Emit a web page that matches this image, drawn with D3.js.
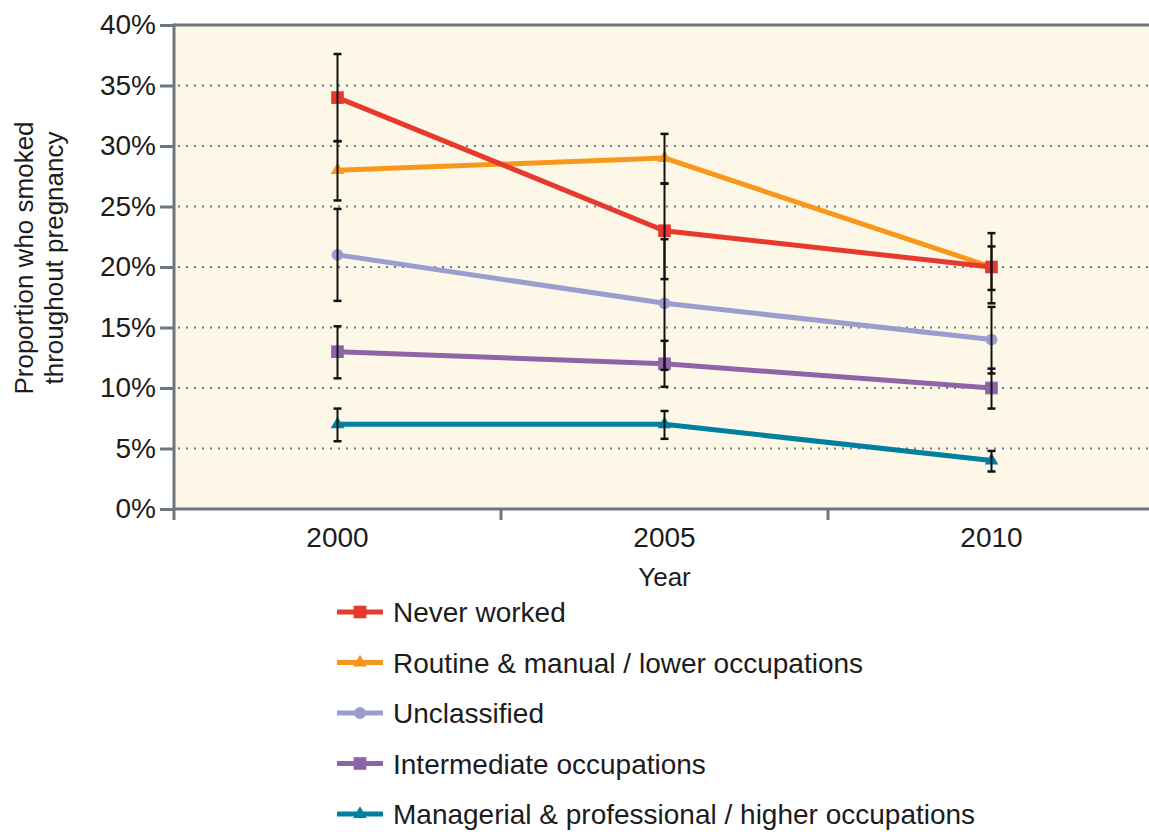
<!DOCTYPE html>
<html>
<head>
<meta charset="utf-8">
<script src="https://cdn.jsdelivr.net/npm/d3@7"></script>
<style>
  body { margin: 0; background: #fff; }
  text { font-family: "Liberation Sans", Arial, sans-serif; fill: #1c1c1c; }
</style>
</head>
<body>
<div id="chart"></div>
<script>

// years on the x axis
var years = [2000, 2005, 2010];

var seriesNames = [
  'Never worked',
  'Routine & manual / lower occupations',
  'Unclassified',
  'Intermediate occupations',
  'Managerial & professional / higher occupations'
];

// proportion (%) and error bar ends
var neverWorked      = [34, 23, 20];
var neverWorkedLow   = [30.4, 19.0, 17.0];
var neverWorkedHigh  = [37.6, 26.9, 22.8];

var routine          = [28, 29, 20];
var routineLow       = [25.5, 26.9, 18.1];
var routineHigh      = [30.4, 31.0, 21.7];

var unclassified     = [21, 17, 14];
var unclassifiedLow  = [17.2, 11.5, 11.2];
var unclassifiedHigh = [24.8, 22.3, 16.7];

var intermediate     = [13, 12, 10];
var intermediateLow  = [10.8, 10.1, 8.3];
var intermediateHigh = [15.1, 13.9, 11.6];

var managerial       = [7, 7, 4];
var managerialLow    = [5.6, 5.8, 3.1];
var managerialHigh   = [8.3, 8.1, 4.8];

var yTicks = [0, 5, 10, 15, 20, 25, 30, 35, 40];

var colors  = ['#e8392e', '#f7981d', '#9b9dcf', '#8e63a8', '#00809f'];
var symbols = [d3.symbolSquare, d3.symbolTriangle, d3.symbolCircle, d3.symbolSquare, d3.symbolTriangle];
var symSize = [160, 80, 110, 160, 80];

var allValues = [neverWorked, routine, unclassified, intermediate, managerial];
var allLow    = [neverWorkedLow, routineLow, unclassifiedLow, intermediateLow, managerialLow];
var allHigh   = [neverWorkedHigh, routineHigh, unclassifiedHigh, intermediateHigh, managerialHigh];

var series = seriesNames.map(function(name, i) {
  return {
    name: name,
    color: colors[i],
    symbol: symbols[i],
    size: symSize[i],
    points: years.map(function(yr, j) {
      return { year: yr, value: allValues[i][j], low: allLow[i][j], high: allHigh[i][j] };
    })
  };
});

var width = 1149,
    height = 832;

var plot = { left: 174, right: 1155, top: 25, bottom: 509 };

var svg = d3.select('#chart')
  .append('svg')
  .attr('width', width)
  .attr('height', height);

var x = d3.scaleBand()
  .domain(years)
  .range([plot.left, plot.right]);

var y = d3.scaleLinear()
  .domain([0, 40])
  .range([plot.bottom, plot.top]);

var axisColor = '#6f777e';

// plot background
svg.append('rect')
  .attr('x', plot.left)
  .attr('y', plot.top)
  .attr('width', width - plot.left)
  .attr('height', plot.bottom - plot.top)
  .attr('fill', '#fdf7e7');

// dotted gridlines
svg.append('g')
  .selectAll('line')
  .data(yTicks.filter(function(d) { return d > 0 && d < 40; }))
  .enter()
  .append('line')
  .attr('x1', plot.left + 4)
  .attr('x2', width)
  .attr('y1', function(d) { return y(d); })
  .attr('y2', function(d) { return y(d); })
  .attr('stroke', '#707780')
  .attr('stroke-width', 2)
  .attr('stroke-dasharray', '2,6');

// top border
svg.append('line')
  .attr('x1', plot.left)
  .attr('x2', width)
  .attr('y1', plot.top)
  .attr('y2', plot.top)
  .attr('stroke', axisColor)
  .attr('stroke-width', 3);

// y axis
var yAxis = svg.append('g')
  .attr('transform', 'translate(' + plot.left + ',0)')
  .call(d3.axisLeft(y)
    .tickValues(yTicks)
    .tickSize(14)
    .tickPadding(4)
    .tickFormat(function(d) { return d + '%'; }));

yAxis.select('.domain').remove();
yAxis.selectAll('.tick line').attr('stroke', axisColor).attr('stroke-width', 3);
yAxis.selectAll('.tick text')
  .attr('font-size', 28)
  .attr('fill', '#1c1c1c')
  .style('font-family', '"Liberation Sans", Arial, sans-serif');

svg.append('line')
  .attr('x1', plot.left)
  .attr('x2', plot.left)
  .attr('y1', plot.top - 1.5)
  .attr('y2', plot.bottom + 11)
  .attr('stroke', axisColor)
  .attr('stroke-width', 3);

// x axis
svg.append('line')
  .attr('x1', plot.left)
  .attr('x2', width)
  .attr('y1', plot.bottom)
  .attr('y2', plot.bottom)
  .attr('stroke', axisColor)
  .attr('stroke-width', 3);

svg.append('g')
  .selectAll('line')
  .data(years.slice(1))
  .enter()
  .append('line')
  .attr('x1', function(d) { return x(d); })
  .attr('x2', function(d) { return x(d); })
  .attr('y1', plot.bottom)
  .attr('y2', plot.bottom + 11)
  .attr('stroke', axisColor)
  .attr('stroke-width', 3);

svg.append('g')
  .selectAll('text')
  .data(years)
  .enter()
  .append('text')
  .attr('x', function(d) { return x(d) + x.bandwidth() / 2; })
  .attr('y', 547)
  .attr('text-anchor', 'middle')
  .attr('font-size', 28)
  .text(function(d) { return d; });

svg.append('text')
  .attr('x', x(2005) + x.bandwidth() / 2)
  .attr('y', 586)
  .attr('text-anchor', 'middle')
  .attr('font-size', 26)
  .text('Year');

// y axis title
var yTitle = svg.append('text')
  .attr('transform', 'translate(33,258) rotate(-90)')
  .attr('text-anchor', 'middle')
  .attr('font-size', 26);
yTitle.append('tspan').attr('x', 0).attr('dy', 0).text('Proportion who smoked');
yTitle.append('tspan').attr('x', 0).attr('dy', 30).text('throughout pregnancy');

var cx = function(d) { return x(d.year) + x.bandwidth() / 2; };

var line = d3.line()
  .x(cx)
  .y(function(d) { return y(d.value); });

// series lines and markers, first series drawn last (on top)
var groups = svg.append('g')
  .selectAll('g')
  .data(series.slice().reverse())
  .enter()
  .append('g');

groups.append('path')
  .attr('d', function(d) { return line(d.points); })
  .attr('fill', 'none')
  .attr('stroke', function(d) { return d.color; })
  .attr('stroke-width', 5);

groups.each(function(s) {
  d3.select(this).selectAll('path.marker')
    .data(s.points)
    .enter()
    .append('path')
    .attr('class', 'marker')
    .attr('d', d3.symbol().type(s.symbol).size(s.size))
    .attr('transform', function(d) { return 'translate(' + cx(d) + ',' + y(d.value) + ')'; })
    .attr('fill', s.color);
});

// error bars on top
var capW = 4;
series.forEach(function(s) {
  var eb = svg.append('g')
    .selectAll('g')
    .data(s.points)
    .enter()
    .append('g')
    .attr('stroke', '#111')
    .attr('stroke-width', 2);

  eb.append('line')
    .attr('x1', cx).attr('x2', cx)
    .attr('y1', function(d) { return y(d.low); })
    .attr('y2', function(d) { return y(d.high); });

  eb.append('line')
    .attr('x1', function(d) { return cx(d) - capW; })
    .attr('x2', function(d) { return cx(d) + capW; })
    .attr('y1', function(d) { return y(d.low); })
    .attr('y2', function(d) { return y(d.low); })
    .attr('stroke-width', 2.5);

  eb.append('line')
    .attr('x1', function(d) { return cx(d) - capW; })
    .attr('x2', function(d) { return cx(d) + capW; })
    .attr('y1', function(d) { return y(d.high); })
    .attr('y2', function(d) { return y(d.high); })
    .attr('stroke-width', 2.5);
});

// legend
var legend = svg.append('g')
  .selectAll('g')
  .data(series)
  .enter()
  .append('g')
  .attr('transform', function(d, i) { return 'translate(337,' + (612 + i * 50.5) + ')'; });

legend.append('line')
  .attr('x1', 0)
  .attr('x2', 46)
  .attr('stroke', function(d) { return d.color; })
  .attr('stroke-width', 5);

legend.append('path')
  .attr('d', function(d) { return d3.symbol().type(d.symbol).size(d.size)(); })
  .attr('transform', 'translate(23,0)')
  .attr('fill', function(d) { return d.color; });

legend.append('text')
  .attr('x', 56)
  .attr('y', 10)
  .attr('font-size', 28)
  .text(function(d) { return d.name; });

</script>
</body>
</html>
